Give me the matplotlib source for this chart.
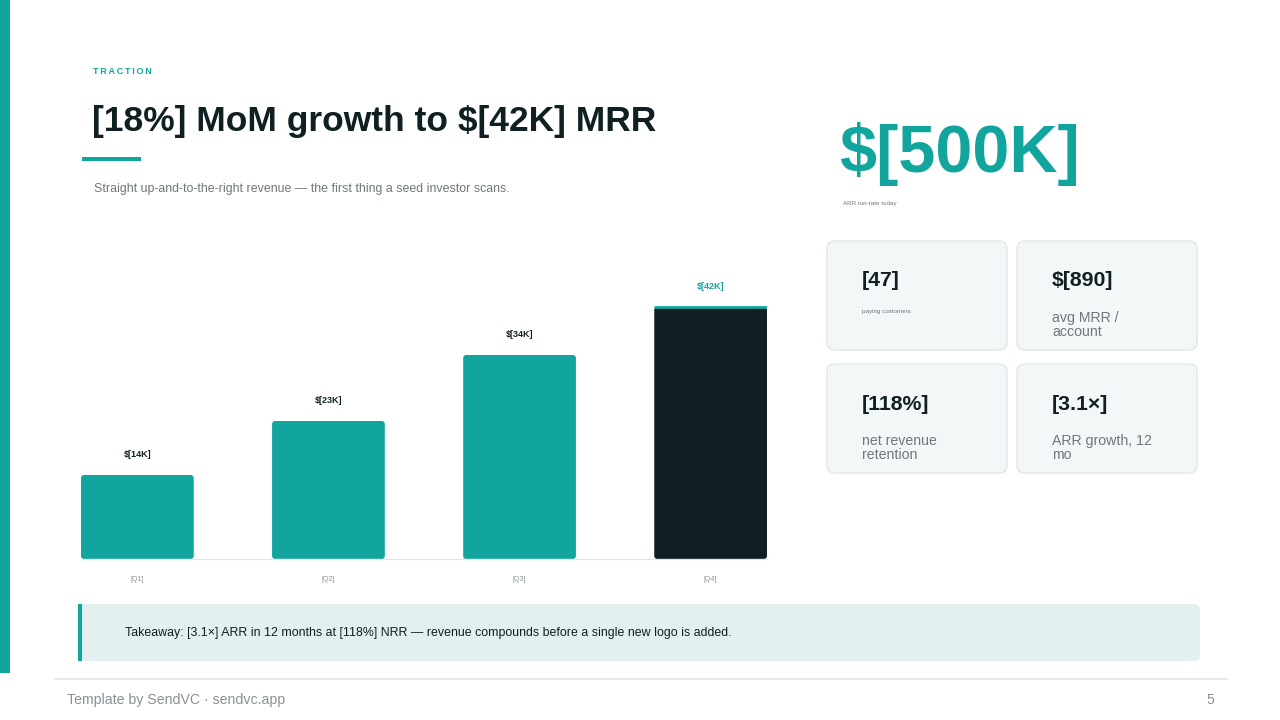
import matplotlib
matplotlib.use("Agg")
import matplotlib.pyplot as plt
from matplotlib.patches import Rectangle, FancyBboxPatch

plt.rcParams['font.family'] = ['Liberation Sans', 'DejaVu Sans']

TEAL = '#11A59E'
DARK = '#0F1F22'
GRAY = '#6E777B'

quarters = ['[Q1]', '[Q2]', '[Q3]', '[Q4]']
mrr_k = [14, 23, 34, 42]
bar_labels = ['$[14K]', '$[23K]', '$[34K]', '$[42K]']

kpi_values = ['[47]', '$[890]', '[118%]', '[3.1×]']
kpi_labels = ['paying customers', 'avg MRR /\naccount', 'net revenue\nretention', 'ARR growth, 12\nmo']

fig = plt.figure(figsize=(12.8, 7.2), dpi=100)
fig.patch.set_facecolor('white')

# background layer in pixel coords
bg = fig.add_axes([0, 0, 1, 1], zorder=0)
bg.set_xlim(0, 1280)
bg.set_ylim(720, 0)
bg.axis('off')

bg.add_patch(Rectangle((0, 0), 10, 673, color=TEAL, lw=0))

bg.text(93, 71, '\u2009'.join('TRACTION'), fontsize=6.5, fontweight='bold', color=TEAL, va='center')

bg.text(92, 121, '[18%] MoM growth to $[42K] MRR', fontsize=25.5, fontweight='bold',
        color=DARK, va='center')
bg.add_patch(Rectangle((82, 157), 59, 3.5, color=TEAL, lw=0))
bg.text(94, 189, 'Straight up-and-to-the-right revenue \u2014 the first thing a seed investor scans.',
        fontsize=8.9, color=GRAY, va='center')

# headline metric
bg.text(839, 154, '$[500K]', fontsize=48, fontweight='bold', color=TEAL, va='center')
bg.text(843, 203, 'ARR run-rate today', fontsize=4.5, color=GRAY, va='center')

# KPI cards
card_x = [827, 1017, 827, 1017]
card_y = [241, 241, 364, 364]
for cx, cy, val, lab in zip(card_x, card_y, kpi_values, kpi_labels):
    bg.add_patch(FancyBboxPatch((cx, cy), 180, 109, boxstyle='round,pad=0,rounding_size=8',
                                fc='#F3F7F8', ec='#E1E7E9', lw=1))
    bg.text(cx + 35, cy + 40, val, fontsize=15.3, fontweight='bold', color=DARK, va='center')
    if lab == 'paying customers':
        bg.text(cx + 35, cy + 71, lab, fontsize=4.5, color=GRAY, va='center')
    else:
        bg.text(cx + 35, cy + 70, lab, fontsize=10.2, color=GRAY, va='top', linespacing=1.0)

# takeaway box
bg.add_patch(FancyBboxPatch((78, 604), 1122, 57, boxstyle='round,pad=0,rounding_size=6',
                            fc='#E2F1EF', ec='none'))
bg.add_patch(Rectangle((78, 604), 3.5, 57, color=TEAL, lw=0))
bg.text(125, 633, 'Takeaway: [3.1×] ARR in 12 months at [118%] NRR \u2014 revenue compounds before a single new logo is added.',
        fontsize=8.95, color=DARK, va='center')

# footer
bg.plot([55, 1227], [679, 679], color='#E6E9EB', lw=1.5)
bg.text(67, 700, 'Template by SendVC \u00b7 sendvc.app', fontsize=10.2, color='#8A9296', va='center')
bg.text(1214, 700, '5', fontsize=10.2, color='#8A9296', va='center', ha='right')

# bar chart
ax = fig.add_axes([81 / 1280, (720 - 559) / 720, 686 / 1280, 300 / 720], zorder=1)
ax.patch.set_alpha(0)
x = range(len(quarters))
colors = [TEAL, TEAL, TEAL, DARK]
bars = ax.bar(x, mrr_k, width=0.59, color=colors, zorder=2)
# swap plain rectangles for slightly rounded ones
for b in bars:
    rb = FancyBboxPatch((b.get_x(), b.get_y()), b.get_width(), b.get_height(),
                        boxstyle='round,pad=0,rounding_size=0.016', mutation_aspect=32,
                        fc=b.get_facecolor(), ec='none', zorder=2)
    b.set_visible(False)
    ax.add_patch(rb)
ax.hlines(mrr_k[-1], 3 - 0.295, 3 + 0.295, color=TEAL, lw=2, zorder=3)
for i, (v, lab) in enumerate(zip(mrr_k, bar_labels)):
    ax.annotate(lab, (i, v), xytext=(0, 15), textcoords='offset points', ha='center',
                va='center', fontsize=6.5, fontweight='bold',
                color=TEAL if i == len(mrr_k) - 1 else DARK)
ax.set_xlim(-0.295, 3.295)
ax.set_ylim(0, 50)
ax.set_xticks(list(x))
ax.set_xticklabels(quarters, fontsize=5, color='#8A9296')
ax.tick_params(axis='x', length=0, pad=12)
ax.set_yticks([])
for s in ['top', 'right', 'left']:
    ax.spines[s].set_visible(False)
ax.spines['bottom'].set_color('#E3E6E8')
ax.spines['bottom'].set_linewidth(1)

fig.savefig('out.png', dpi=100)
